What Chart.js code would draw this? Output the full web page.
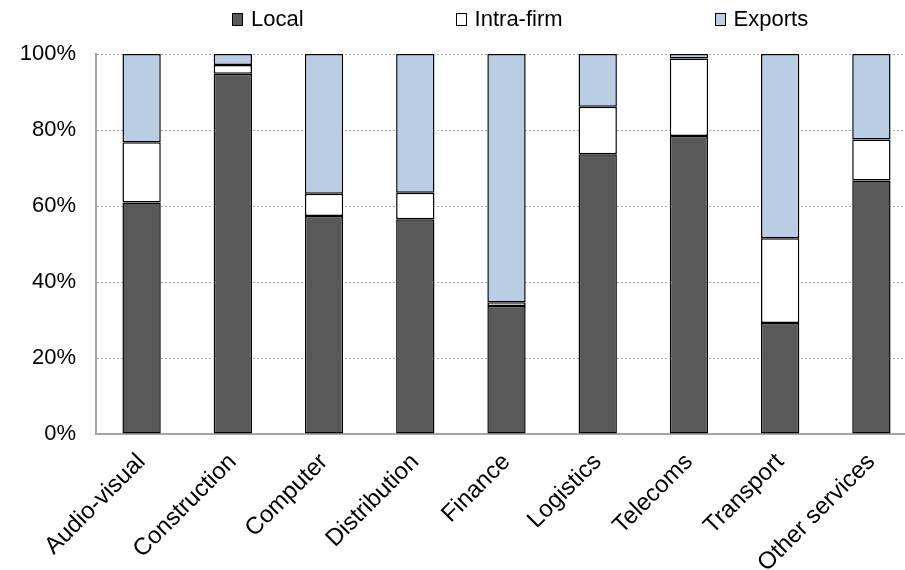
<!DOCTYPE html>
<html>
<head>
<meta charset="utf-8">
<title>Local, intra-firm and export sales by sector</title>
<script src="https://cdn.jsdelivr.net/npm/chart.js@4.4.1/dist/chart.umd.min.js"></script>
<style>
  html, body { margin: 0; padding: 0; background: #fff; overflow: hidden; }
  #wrap { position: relative; width: 905px; height: 570px; overflow: hidden; }
  #share-chart { position: absolute; left: 0; top: 0; }
  #legend { position: absolute; left: 232px; top: 6px; display: flex; gap: 152px;
            font: 22px "Liberation Sans", Arial, sans-serif; color: #000; }
  .item { display: flex; align-items: center; }
  .swatch { width: 9px; height: 11px; border: 1px solid #000; margin-right: 8px; }
</style>
</head>
<body>
<div id="wrap">
  <canvas id="share-chart" width="920" height="570"></canvas>
  <div id="legend"></div>
</div>
<script>
const categories = ['Audio-visual', 'Construction', 'Computer', 'Distribution', 'Finance',
                    'Logistics', 'Telecoms', 'Transport', 'Other services'];
const localShare = [60.9, 94.8, 57.4, 56.5, 33.7, 73.6, 78.4, 29.2, 66.7];
const intraFirmShare = [15.9, 2.3, 5.8, 7.0, 1.0, 12.5, 20.4, 22.3, 10.8];
const exportShare = [23.2, 2.9, 36.8, 36.5, 65.3, 13.9, 1.2, 48.5, 22.5];
const yTicks = [0, 20, 40, 60, 80, 100];

const fontFamily = '"Liberation Sans", Arial, sans-serif';

function barSeries(label, data, color) {
    return {
        label,
        data,
        backgroundColor: color,
        borderColor: '#000',
        borderWidth: 1.5,
        borderSkipped: false,
        categoryPercentage: 1,
        barPercentage: 0.42
    };
}

const chart = new Chart(document.getElementById('share-chart'), {
    type: 'bar',
    data: {
        labels: categories,
        datasets: [
            barSeries('Local', localShare, '#595959'),
            barSeries('Intra-firm', intraFirmShare, '#ffffff'),
            barSeries('Exports', exportShare, '#b9cde5')
        ]
    },
    options: {
        responsive: false,
        animation: false,
        layout: { padding: { top: 54, left: 0, right: 3, bottom: 0 } },
        plugins: {
            legend: { display: false },
            tooltip: { enabled: false }
        },
        scales: {
            x: {
                stacked: true,
                afterFit: axis => { axis.height = 136; },
                grid: { display: false, drawTicks: false },
                border: { color: '#a6a6a6', width: 2 },
                ticks: {
                    color: '#000',
                    font: { family: fontFamily, size: 24 },
                    maxRotation: 45,
                    minRotation: 45,
                    padding: 14
                }
            },
            y: {
                stacked: true,
                min: 0,
                max: 100,
                afterFit: axis => { axis.width = 96; },
                afterBuildTicks: axis => { axis.ticks = yTicks.map(v => ({ value: v })); },
                grid: { color: '#a6a6a6', lineWidth: 1, drawTicks: false },
                border: { color: '#a6a6a6', width: 2, dash: [2, 2] },
                ticks: {
                    color: '#000',
                    font: { family: fontFamily, size: 22 },
                    padding: 20,
                    callback: v => v + '%'
                }
            }
        }
    }
});

// legend as html, built from the chart's own datasets
const legendEl = document.getElementById('legend');
chart.data.datasets.forEach(ds => {
    const item = document.createElement('div');
    item.className = 'item';
    const swatch = document.createElement('span');
    swatch.className = 'swatch';
    swatch.style.background = ds.backgroundColor;
    const text = document.createElement('span');
    text.textContent = ds.label;
    item.appendChild(swatch);
    item.appendChild(text);
    legendEl.appendChild(item);
});
</script>
</body>
</html>
